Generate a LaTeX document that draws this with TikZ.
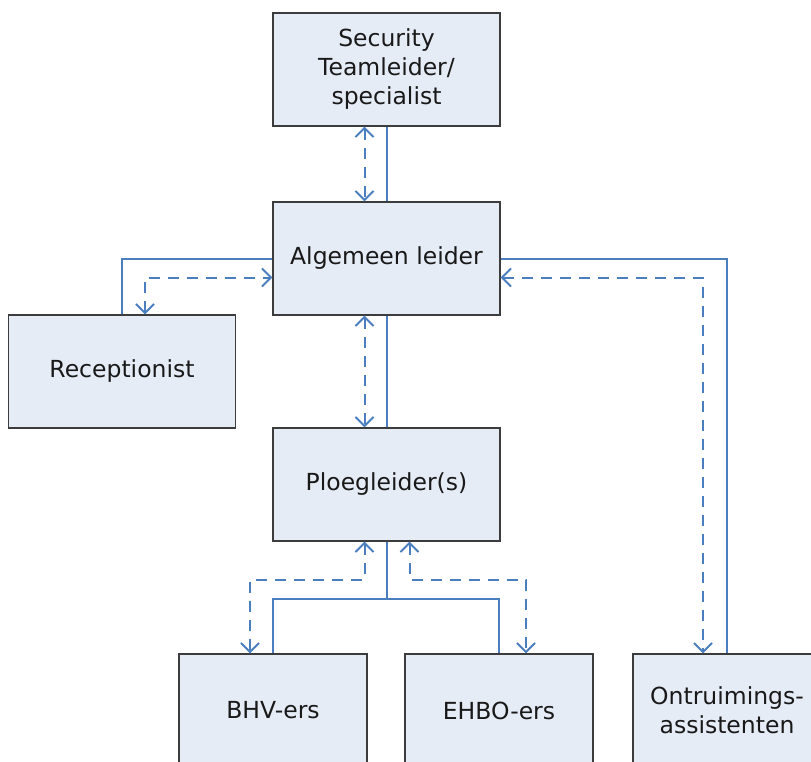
\documentclass[tikz,border=0pt]{standalone}
\usepackage{fontspec}
\setmainfont{DejaVu Sans}
\usetikzlibrary{arrows.meta}
\definecolor{lnblue}{HTML}{4A7EBF}
\definecolor{boxfill}{HTML}{E6ECF6}
\definecolor{boxline}{HTML}{3C3C3C}
\tikzset{
  box/.style={draw=boxline, line width=1.2pt, fill=boxfill, minimum width=227pt, minimum height=113pt,
    inner sep=0pt, align=center, font=\fontsize{23.5}{29}\selectfont, text=black!90},
  lowbox/.style={box, minimum width=188pt},
  solidline/.style={draw=lnblue, line width=2pt},
  dashline/.style={draw=lnblue, line width=2pt, dash pattern=on 11pt off 8pt,
    {Straight Barb[length=9pt,width=18pt]}-{Straight Barb[length=9pt,width=18pt]}},
}
\begin{document}
\begin{tikzpicture}[x=1pt,y=-1pt]
\useasboundingbox (0,0) rectangle (811,762);
\clip (0,0) rectangle (811,762);
\node[box] (sec) at (386.5,69.5) {Security\\Teamleider/\\specialist};
\node[box] (alg) at (386.5,258.5) {Algemeen leider};
\node[box] (rec) at (122,371.5) {Receptionist};
\node[box] (plo) at (386.5,484.5) {Ploegleider(s)};
\node[lowbox] (bhv) at (273,710.5) {BHV-ers};
\node[lowbox] (ehb) at (499,710.5) {EHBO-ers};
\node[lowbox] (ont) at (727,710.5) {Ontruimings-\\assistenten};
% solid lines
\draw[solidline] (sec.south) -- (alg.north);
\draw[solidline] (alg.south) -- (plo.north);
\draw[solidline] (alg.west) -| (rec.north);
\draw[solidline] (alg.east) -| (ont.north);
\draw[solidline] (plo.south) -- ++(0,57) coordinate (split) -| (bhv.north);
\draw[solidline] (split) -| (ehb.north);
% dashed double arrows
\draw[dashline] ([xshift=-22pt]sec.south) -- ([xshift=-22pt]alg.north);
\draw[dashline] ([xshift=-22pt]alg.south) -- ([xshift=-22pt]plo.north);
\draw[dashline] ([xshift=23pt]rec.north) |- ([yshift=-19pt]alg.west);
\draw[dashline] ([yshift=-19pt]alg.east) -| ([xshift=-24pt]ont.north);
\draw[dashline] ([xshift=-22pt]plo.south) -- ++(0,38) -| ([xshift=-23pt]bhv.north);
\draw[dashline] ([xshift=23pt]plo.south) -- ++(0,38) -| ([xshift=27pt]ehb.north);
\end{tikzpicture}
\end{document}
